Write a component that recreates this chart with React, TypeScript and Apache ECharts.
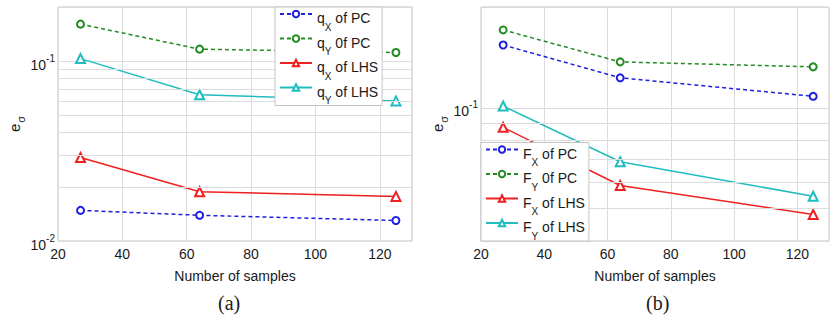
import React, { useEffect, useRef } from "react";
import * as echarts from "echarts";

// Sample counts used in both studies
const sampleCounts = [27, 64, 125];

// (a) relative standard deviation error of q
const qxPC = [0.0148, 0.0139, 0.013];
const qyPC = [0.1606, 0.1166, 0.1117];
const qxLHS = [0.0291, 0.0188, 0.0177];
const qyLHS = [0.1033, 0.065, 0.0601];

// (b) relative standard deviation error of F
const fxPC = [0.154, 0.1229, 0.1082];
const fyPC = [0.1708, 0.1371, 0.1325];
const fxLHS = [0.0874, 0.0586, 0.048];
const fyLHS = [0.1012, 0.069, 0.0544];

// Log-axis extents and minor grid levels
const yRangeA = [0.01, 0.2];
const yRangeB = [0.04, 0.2];
const minorLevelsA = [0.02, 0.03, 0.04, 0.05, 0.06, 0.07, 0.08, 0.09];
const minorLevelsB = [0.05, 0.06, 0.07, 0.08, 0.09];

const xRange = [20, 130];
const xStep = 20;

const FONT = "'Liberation Sans', Arial, Helvetica, sans-serif";
const GRID_COLOR = "#dcdcdc";
const BORDER_COLOR = "#c4c4c4";
const TEXT_COLOR = "#1a1a1a";

const BLUE = "#1f1fe0";
const GREEN = "#228b22";
const RED = "#ee2020";
const CYAN = "#1fbcc0";

type Spec = { name: string; values: number[]; color: string; dashed: boolean; symbol: string };

const seriesA: Spec[] = [
  { name: "q_X of PC", values: qxPC, color: BLUE, dashed: true, symbol: "emptyCircle" },
  { name: "q_Y 0f PC", values: qyPC, color: GREEN, dashed: true, symbol: "emptyCircle" },
  { name: "q_X of LHS", values: qxLHS, color: RED, dashed: false, symbol: "emptyTriangle" },
  { name: "q_Y of LHS", values: qyLHS, color: CYAN, dashed: false, symbol: "emptyTriangle" },
];

const seriesB: Spec[] = [
  { name: "F_X of PC", values: fxPC, color: BLUE, dashed: true, symbol: "emptyCircle" },
  { name: "F_Y 0f PC", values: fyPC, color: GREEN, dashed: true, symbol: "emptyCircle" },
  { name: "F_X of LHS", values: fxLHS, color: RED, dashed: false, symbol: "emptyTriangle" },
  { name: "F_Y of LHS", values: fyLHS, color: CYAN, dashed: false, symbol: "emptyTriangle" },
];

const legendLabel = (name: string) => {
  const m = name.match(/^(\w)_(\w) (.*)$/);
  if (!m) return name;
  return `{n|${m[1]}}{s|${m[2]}}{n| ${m[3]}}`;
};

const isPow10 = (v: number) => {
  const e = Math.log10(v);
  return Math.abs(e - Math.round(e)) < 1e-6;
};

const yLabel = (v: number) => {
  if (!isPow10(v)) return "";
  return `{b|10}{p|${Math.round(Math.log10(v))}}`;
};

const lineSeries = (s: Spec, idx: number) => ({
  type: "line",
  name: s.name,
  xAxisIndex: idx,
  yAxisIndex: idx,
  data: sampleCounts.map((x, i) => [x, s.values[i]]),
  symbol: s.symbol,
  symbolSize: s.symbol === "emptyCircle" ? 7 : 9,
  showAllSymbol: true,
  z: 3,
  color: s.color,
  lineStyle: { color: s.color, width: 1.5, type: s.dashed ? [4, 3] : "solid" },
  itemStyle: { color: s.color, borderWidth: 1.5 },
});

const minorGridSeries = (levels: number[], idx: number) => ({
  type: "line",
  name: "minor-grid-" + idx,
  xAxisIndex: idx,
  yAxisIndex: idx,
  data: [],
  z: 1,
  silent: true,
  markLine: {
    silent: true,
    symbol: ["none", "none"],
    label: { show: false },
    lineStyle: { color: GRID_COLOR, type: "solid", width: 1 },
    data: levels.map((v) => ({ yAxis: v })),
  },
});

const legendRich = {
  n: { fontSize: 14, fontFamily: FONT, color: TEXT_COLOR, lineHeight: 16, padding: [5, 0, 5, 0], verticalAlign: "top" },
  s: { fontSize: 10, fontFamily: FONT, color: TEXT_COLOR, lineHeight: 10, padding: [16, 0, 0, 0], verticalAlign: "top" },
};

const legendBase = {
  orient: "vertical",
  backgroundColor: "#ffffff",
  borderColor: BORDER_COLOR,
  borderWidth: 1,
  borderRadius: 0,
  itemWidth: 32,
  itemHeight: 8,
  itemGap: -1.5,
  padding: [-1, 4, 0, 4],
  formatter: legendLabel,
  textStyle: { fontFamily: FONT, fontSize: 14, color: TEXT_COLOR, rich: legendRich },
  z: 10,
};

const xAxisBase = (idx: number) => ({
  type: "value",
  gridIndex: idx,
  min: xRange[0],
  max: xRange[1],
  interval: xStep,
  name: "Number of samples",
  nameLocation: "middle",
  nameGap: 28,
  nameTextStyle: { fontFamily: FONT, fontSize: 14, color: TEXT_COLOR },
  axisLine: { show: false },
  axisTick: { show: false },
  axisLabel: {
    fontFamily: FONT,
    fontSize: 14,
    color: TEXT_COLOR,
    margin: 6,
    formatter: (v: number) => (v % xStep === 0 && v <= 120 ? String(v) : ""),
  },
  splitLine: { show: true, lineStyle: { color: GRID_COLOR, width: 1 } },
});

const yAxisBase = (idx: number, range: number[]) => ({
  type: "log",
  logBase: 10,
  gridIndex: idx,
  min: range[0],
  max: range[1],
  name: "{n|e}{s|σ}",
  nameLocation: "middle",
  nameRotate: 90,
  nameGap: 38,
  nameTextStyle: {
    fontFamily: FONT,
    color: TEXT_COLOR,
    rich: {
      n: { fontSize: 15, fontFamily: FONT, color: TEXT_COLOR, lineHeight: 16, padding: [4, 0, 4, 0], verticalAlign: "top" },
      s: { fontSize: 11, fontFamily: FONT, color: TEXT_COLOR, lineHeight: 11, padding: [13, 0, 0, 1], verticalAlign: "top" },
    },
  },
  axisLine: { show: false },
  axisTick: { show: false },
  axisLabel: {
    margin: 3,
    formatter: yLabel,
    rich: {
      b: { fontSize: 14, fontFamily: FONT, color: TEXT_COLOR, lineHeight: 16, padding: [4.5, 0, 0, 0], verticalAlign: "top" },
      p: { fontSize: 10, fontFamily: FONT, color: TEXT_COLOR, lineHeight: 10, verticalAlign: "top" },
    },
  },
  splitLine: { show: true, lineStyle: { color: GRID_COLOR, width: 1 } },
});

export default function App() {
  const ref = useRef<HTMLDivElement>(null);

  useEffect(() => {
    if (!ref.current) return;
    const chart = echarts.init(ref.current, undefined, { renderer: "svg" });
    chart.setOption({
      animation: false,
      backgroundColor: "#ffffff",
      grid: [
        { left: 58, right: 420, top: 7, bottom: 79, show: true, borderColor: BORDER_COLOR, borderWidth: 1, backgroundColor: "transparent" },
        { left: 481, right: -3, top: 7, bottom: 79, show: true, borderColor: BORDER_COLOR, borderWidth: 1, backgroundColor: "transparent" },
      ],
      xAxis: [xAxisBase(0), xAxisBase(1)],
      yAxis: [yAxisBase(0, yRangeA), yAxisBase(1, yRangeB)],
      legend: [
        { ...legendBase, left: 275, top: 7, data: seriesA.map((s) => s.name) },
        { ...legendBase, left: 481, bottom: 79, data: seriesB.map((s) => s.name) },
      ],
      series: [
        minorGridSeries(minorLevelsA, 0),
        minorGridSeries(minorLevelsB, 1),
        ...seriesA.map((s) => lineSeries(s, 0)),
        ...seriesB.map((s) => lineSeries(s, 1)),
      ],
      graphic: [
        {
          type: "text",
          left: 218,
          top: 293,
          style: { text: "(a)", font: "20px 'Liberation Serif', 'Times New Roman', serif", fill: TEXT_COLOR },
        },
        {
          type: "text",
          left: 646,
          top: 293,
          style: { text: "(b)", font: "20px 'Liberation Serif', 'Times New Roman', serif", fill: TEXT_COLOR },
        },
      ],
    });
    return () => chart.dispose();
  }, []);

  return (
    <div
      ref={ref}
      style={{ position: "fixed", left: 0, top: 0, width: 832, height: 320, background: "#fff" }}
    />
  );
}
